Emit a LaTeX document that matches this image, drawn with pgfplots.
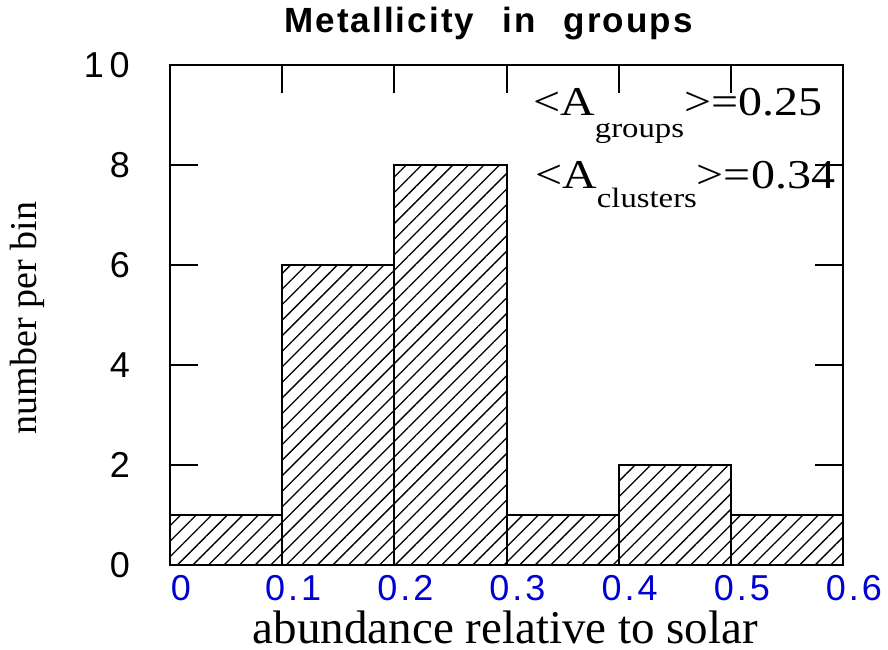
\documentclass[border=0pt]{standalone}
\usepackage{pgfplots}
\pgfplotsset{compat=1.18}
\usepackage{graphicx}
\usepackage{fontspec}
\setmainfont{Liberation Serif}
\newfontfamily\sans{Liberation Sans}
\newfontfamily\titlefont[LetterSpace=6]{Liberation Sans}
\usetikzlibrary{patterns.meta}
\definecolor{tickblue}{RGB}{0,0,210}

\begin{document}
\begin{tikzpicture}[x=1pt,y=1pt]
\useasboundingbox (-170,-84) rectangle (718,565);
\begin{axis}[at={(0,0)}, anchor=south west, scale only axis,
  width=673pt, height=500pt,
  xmin=0, xmax=0.6, ymin=0, ymax=10,
  clip=false,
  axis line style={line width=2.2pt},
  every tick/.style={black, line width=2pt},
  tick align=inside, major tick length=28pt,
  xtick={0,0.1,0.2,0.3,0.4,0.5,0.6},
  xticklabels={0, 0\kern3pt.\kern3pt1, 0\kern3pt.\kern3pt2, 0\kern3pt.\kern3pt3, 0\kern3pt.\kern3pt4, 0\kern3pt.\kern3pt5, 0\kern3pt.\kern3pt6},
  xtick pos=right, xticklabel pos=left,
  ytick={0,2,4,6,8,10},
  yticklabels={0,2,4,6,8,1\kern6pt0},
  ytick pos=both, yticklabel pos=left,
  x tick label style={font=\sans\fontsize{36}{40}\selectfont, text=tickblue, anchor=north, inner sep=0pt, xshift=11pt, yshift=-10pt},
  y tick label style={font=\sans\fontsize{36}{40}\selectfont, anchor=east, inner sep=0pt, xshift=-40pt},
  title={Metallicity\hspace{28pt}in\hspace{28pt}groups},
  title style={at={(axis description cs:0.5,1)}, anchor=base, yshift=26pt, xshift=-18pt, inner sep=0pt, font=\titlefont\bfseries\fontsize{35}{38}\selectfont},
  xlabel={abundance relative to solar},
  xlabel style={at={(axis description cs:0.4985,0)}, anchor=base, yshift=-78pt, inner sep=0pt, font=\fontsize{47}{50}\selectfont},
  ylabel={number per bin},
  ylabel style={at={(axis description cs:-0.2125,0.494)}, anchor=center, inner sep=0pt, font=\fontsize{38}{40}\selectfont},
]
\addplot[ybar interval, draw=black, line width=2pt,
  pattern={Lines[angle=45,distance=11pt,line width=1.3pt]}]
  coordinates {(0,1) (0.1,6) (0.2,8) (0.3,1) (0.4,2) (0.5,1) (0.6,1)};
\node[anchor=base west, inner sep=0pt] at (axis description cs:0.5394,0.9)
  {\scalebox{1.17}[1]{\fontsize{41}{44}\selectfont <A\raisebox{-22pt}{\fontsize{28}{30}\selectfont groups}>=0.25}};
\node[anchor=base west, inner sep=0pt] at (axis description cs:0.5423,0.754)
  {\scalebox{1.17}[1]{\fontsize{41}{44}\selectfont <A\raisebox{-19pt}{\fontsize{28}{30}\selectfont clusters}>=0.34}};
\end{axis}
\end{tikzpicture}
\end{document}
